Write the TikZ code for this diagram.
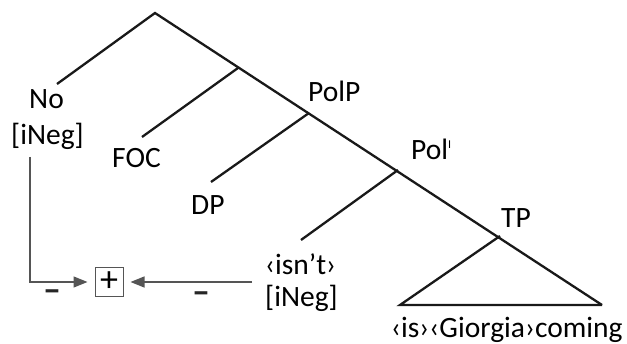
\documentclass[tikz,border=0pt]{standalone}
\usepackage{fontspec}
\setmainfont{Carlito}
\usetikzlibrary{arrows.meta}
\definecolor{linegray}{RGB}{85,85,85}

\begin{document}
\begin{tikzpicture}[x=1pt,y=-1pt, %% pixel units, y runs down
    branch/.style={line width=2.3pt,color=black!90},
    lbl/.style={font=\fontsize{29.5}{31}\selectfont,inner sep=0pt,anchor=base west},
    sign/.style={font=\bfseries\fontsize{36}{36}\selectfont,inner sep=0pt,color=black!85},
    flow/.style={line width=1.3pt,color=linegray,-{Triangle[length=14pt,width=11pt]}}]
    \useasboundingbox (0,0) rectangle (627,344);

    % tree points
    \coordinate (root) at (155,13);
    \coordinate (focbar) at (238,68);
    \coordinate (polp) at (309,113);
    \coordinate (polbar) at (398,170);
    \coordinate (tp) at (500,236);
    \coordinate (triL) at (400,305);
    \coordinate (triR) at (602,305);
    \coordinate (noend) at (57,84);
    \coordinate (focend) at (142,137);
    \coordinate (dpend) at (211,182);
    \coordinate (isntend) at (301,240);

    % labels
    \node[lbl] (no) at (29,109) {No};
    \node[lbl] (noneg) at (11,145) {[iNeg]};
    \node[lbl] (foc) at (112,168) {FOC};
    \node[lbl] (dp) at (191,215) {DP};
    \node[lbl] (polplbl) at (308,102) {PolP};
    \node[lbl] (polbarlbl) at (411,160) {Pol\raisebox{11pt}{\fontsize{12}{12}\selectfont I}};
    \node[lbl] (tplbl) at (501,228) {TP};
    \node[lbl] (isnt) at (265,275) {‹isn’t›};
    \node[lbl] (isntneg) at (265,307) {[iNeg]};
    \node[lbl] (coming) at (391,338) {‹is›‹Giorgia›coming};

    \node[draw=linegray,line width=1pt,minimum width=28pt,minimum height=29pt,inner sep=0pt,
        font=\fontsize{36}{36}\selectfont] (plus) at (109,282) {+};
    \node[sign] (minusl) at (52,296) {–};
    \node[sign] (minusr) at (201,298) {–};

    % branches
    \draw[branch] (noend) -- (root) -- (triR);
    \draw[branch] (focend) -- (focbar);
    \draw[branch] (dpend) -- (polp);
    \draw[branch] (isntend) -- (polbar);
    \draw[branch] (tp) -- (triL) -- (triR);

    % agreement arrows
    \coordinate (bend) at (30,282);
    \draw[flow] (30,157) -- (bend) -- ([xshift=-7pt]plus.west);
    \coordinate (isntstart) at (252,282);
    \draw[flow] (isntstart) -- ([xshift=7pt]plus.east);
\end{tikzpicture}
\end{document}
